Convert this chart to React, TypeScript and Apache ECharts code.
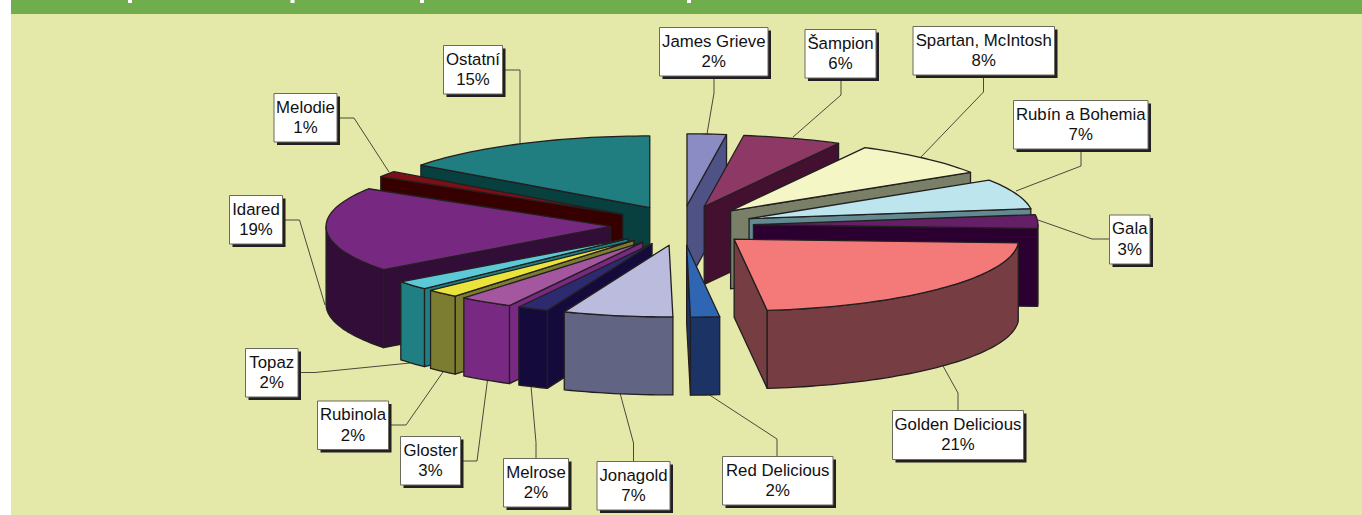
import React, { useEffect, useRef } from "react";
import * as echarts from "echarts";

// Clockwise from 12 o'clock
const varieties = ["James Grieve", "Šampion", "Spartan, McIntosh", "Rubín a Bohemia", "Gala", "Golden Delicious", "Red Delicious", "Jonagold", "Melrose", "Gloster", "Rubinola", "Topaz", "Idared", "Melodie", "Ostatní"];
const printedPercent = [2, 6, 8, 7, 3, 21, 2, 7, 2, 3, 2, 2, 19, 1, 15];
const sliceShare = [2.22, 5.61, 8.14, 6.81, 3.06, 22.31, 1.64, 6.22, 1.75, 3.06, 1.86, 2.03, 19.11, 1.31, 14.88];
const topColors = ["#8b8cc4", "#8e3865", "#f4f6c6", "#bce5ee", "#651f67", "#f47a7a", "#2e66b3", "#babbdd", "#2e2a6f", "#a4569f", "#eae33c", "#5dc9d7", "#772982", "#7c1014", "#207d80"];
const wallColors = ["#4f5285", "#431030", "#7a7f68", "#628a90", "#2b0030", "#763d42", "#1b3465", "#616482", "#150a3c", "#782981", "#7d7d31", "#207f82", "#320d37", "#370000", "#07403f"];
// Back-to-front painting order
const paintOrder = [0, 1, 2, 3, 4, 5, 14, 13, 12, 11, 10, 9, 8, 7, 6];

// Layout of label boxes [x0, y0, x1, y1], same order as varieties
const labelBoxes = [
  [659.5, 27.5, 768, 76], [805, 29.5, 876, 78], [913, 26.5, 1054.5, 75], [1013.5, 100.5, 1148, 149], [1109.5, 215, 1150, 264],
  [892.5, 410.5, 1023.5, 459.5], [722.5, 456.5, 833, 505], [597, 461.5, 670, 510], [503.5, 458.5, 568.5, 507], [400.5, 436.5, 460.5, 485],
  [317.5, 401, 388.5, 449.5], [245.5, 348.5, 298, 397], [229.5, 195.5, 282.5, 244], [274, 93.5, 337, 142], [443.5, 45.5, 502.5, 94],
];
const leaderLines = [
  [[714, 76], [714, 93], [707, 134]], [[841, 78], [841, 95], [793, 137]], [[983.5, 75], [983.5, 92], [921, 157]], [[1081, 149], [1081, 166], [1016, 191]],
  [[1109, 239], [1092, 239], [1038, 220]], [[958, 410], [958, 393], [943, 366]], [[777, 456], [777, 439], [708, 394]], [[633.5, 461], [633.5, 443], [620, 393]],
  [[536, 458], [536, 442.5], [531, 386]], [[461, 461], [477, 461], [487.5, 380]], [[388, 425], [406, 425], [443, 372]], [[298, 372.5], [315, 372.5], [410, 363]],
  [[283, 220], [299.5, 220], [325, 305]], [[337, 118], [354, 118], [389, 172]], [[503, 70], [520, 70], [520, 143]],
];
const titleRemnantX = [128, 290.5, 420, 687];

const CX = 682, CY = 225.5, RADIUS = 284.5, TILT = 0.252, DEPTH = 78, EXPLODE = 71.5, EXPLODE_TILT = 0.28;
const DEG = Math.PI / 180;
const INK = "#231f20";

const total = sliceShare.reduce((s, v) => s + v, 0);
const edges: number[] = [0];
sliceShare.forEach((v) => edges.push(edges[edges.length - 1] + (v / total) * 360));

function renderSlice(_: any, api: any) {
  const a = api.value(0), b = api.value(1), i = api.value(2);
  const mid = ((a + b) / 2) * DEG;
  const ox = CX + EXPLODE * Math.sin(mid), oy = CY - EXPLODE * EXPLODE_TILT * Math.cos(mid);
  const rim = (deg: number, h = 0) => [ox + RADIUS * Math.sin(deg * DEG), oy - RADIUS * TILT * Math.cos(deg * DEG) + h];
  const arc = (from: number, to: number, h = 0) => {
    const n = Math.max(2, Math.ceil((to - from) / 1.5));
    const pts: number[][] = [];
    for (let k = 0; k <= n; k++) pts.push(rim(from + ((to - from) * k) / n, h));
    return pts;
  };
  const poly = (points: number[][], fill: string) => ({
    type: "polygon", shape: { points }, style: { fill, stroke: INK, lineWidth: 1.3, lineJoin: "round" },
  });
  const wall = wallColors[i];
  const children: any[] = [];
  const radial = (deg: number) => poly([[ox, oy], rim(deg), rim(deg, DEPTH), [ox, oy + DEPTH]], wall);
  if (Math.sin(a * DEG) < 0) children.push(radial(a));
  if (Math.sin(b * DEG) > 0) children.push(radial(b));
  const f = Math.max(a, 90), t = Math.min(b, 270);
  if (t > f) children.push(poly([...arc(f, t), ...arc(f, t, DEPTH).reverse()], wall));
  children.push(poly([[ox, oy], ...arc(a, b)], topColors[i]));
  return { type: "group", children };
}

export default function App() {
  const ref = useRef<HTMLDivElement>(null);
  useEffect(() => {
    const chart = echarts.init(ref.current!, undefined, { renderer: "svg" });
    const graphic: any[] = [
      { type: "rect", z: 0, silent: true, shape: { x: 0, y: 0, width: 1362, height: 515 }, style: { fill: "#ffffff" } },
      { type: "rect", z: 0, silent: true, shape: { x: 11, y: 14, width: 1351, height: 501 }, style: { fill: "#e4e8a8" } },
      { type: "rect", z: 0, silent: true, shape: { x: 11, y: 0, width: 1351, height: 14 }, style: { fill: "#70ad4d" } },
    ];
    titleRemnantX.forEach((x) => graphic.push({ type: "rect", z: 1, silent: true, shape: { x, y: 0, width: 4, height: 3 }, style: { fill: "#ffffff" } }));
    leaderLines.forEach((points) =>
      graphic.push({ type: "polyline", z: 1, silent: true, shape: { points }, style: { fill: "none", stroke: "#4a4a3c", lineWidth: 1 } })
    );
    labelBoxes.forEach(([x0, y0, x1, y1], i) => {
      const width = x1 - x0, height = y1 - y0;
      graphic.push(
        { type: "rect", z: 20, silent: true, shape: { x: x0 + 3, y: y0 + 3, width, height }, style: { fill: INK } },
        { type: "rect", z: 21, silent: true, shape: { x: x0, y: y0, width, height }, style: { fill: "#ffffff", stroke: "#6b6b60", lineWidth: 1 } },
        {
          type: "text", z: 22, silent: true,
          style: {
            x: (x0 + x1) / 2, y: (y0 + y1) / 2 - 0.5, text: `${varieties[i]}\n${printedPercent[i]}%`,
            fontFamily: "Liberation Sans", fontSize: 16.8, lineHeight: 20.5, fill: "#111111",
            align: "center", verticalAlign: "middle", textAlign: "center", textVerticalAlign: "middle",
          },
        }
      );
    });
    chart.setOption({
      animation: false,
      graphic: { elements: graphic },
      series: [
        {
          type: "custom", coordinateSystem: "none", z: 10, silent: true, clip: false,
          renderItem: renderSlice,
          data: paintOrder.map((i) => [edges[i], edges[i + 1], i]),
        },
      ],
    });
    return () => chart.dispose();
  }, []);
  return <div ref={ref} style={{ position: "absolute", left: 0, top: 0, width: 1362, height: 515 }} />;
}
